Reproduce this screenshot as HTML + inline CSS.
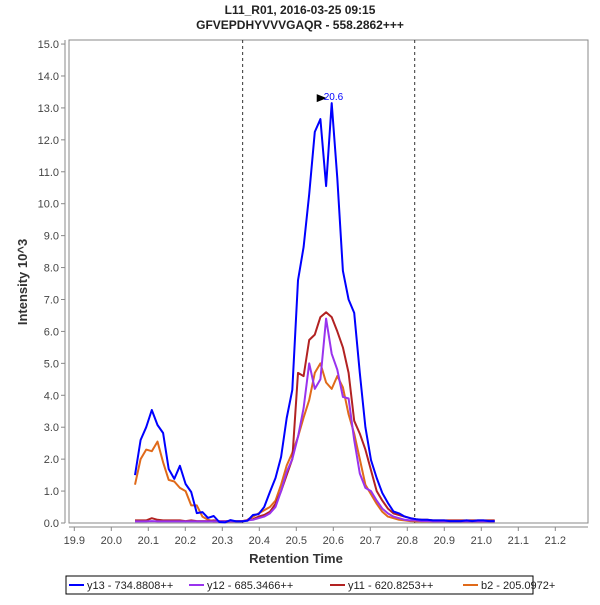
<!DOCTYPE html>
<html><head><meta charset="utf-8"><style>
body{margin:0;background:#fff}
svg{font-family:"Liberation Sans",sans-serif}
</style></head><body>
<svg id="c" width="600" height="600" viewBox="0 0 600 600">
<rect width="600" height="600" fill="#fff"/>
<text x="300" y="14" text-anchor="middle" font-size="12" font-weight="bold" fill="#222">L11_R01, 2016-03-25 09:15</text>
<text x="300" y="29" text-anchor="middle" font-size="12" font-weight="bold" fill="#222">GFVEPDHYVVVGAQR - 558.2862+++</text>
<rect x="69" y="40" width="519" height="483" fill="#fff" stroke="#888" stroke-width="1"/>
<g id="axes"></g>
<g id="series"></g>
<text x="296" y="563" text-anchor="middle" font-size="13" font-weight="bold" fill="#333">Retention Time</text>
<text transform="translate(27,282) rotate(-90)" text-anchor="middle" font-size="13" font-weight="bold" fill="#333">Intensity 10^3</text>
<g>
<rect x="66" y="576" width="467" height="18" fill="#fff" stroke="#000" stroke-width="1"/>
<g id="legend"></g>
</g>
</svg>
<script>
const times0 = 20.064, dt = 0.01519;
const y13 = [1.5,2.6,3.0,3.54,3.07,2.82,1.69,1.38,1.79,1.22,0.97,0.31,0.34,0.16,0.22,0.03,0.02,0.09,0.05,0.05,0.07,0.25,0.28,0.5,0.97,1.41,2.07,3.29,4.17,7.6,8.64,10.3,12.25,12.65,10.55,13.15,10.8,7.9,7.0,6.58,4.7,3.0,1.97,1.41,0.94,0.63,0.36,0.3,0.2,0.15,0.12,0.1,0.1,0.08,0.08,0.08,0.06,0.06,0.06,0.08,0.06,0.08,0.08,0.06,0.06];
const y12 = [0.05,0.05,0.05,0.06,0.05,0.05,0.05,0.05,0.05,0.05,0.05,0.05,0.05,0.05,0.05,0.05,0.05,0.05,0.05,0.05,0.08,0.1,0.15,0.2,0.3,0.5,1.0,1.6,2.0,2.7,3.6,5.0,4.2,4.5,6.4,5.3,4.8,3.95,3.9,2.6,1.55,1.1,1.0,0.7,0.45,0.3,0.2,0.15,0.1,0.08,0.08,0.06,0.06,0.05,0.05,0.05,0.05,0.05,0.05,0.05,0.05,0.05,0.05,0.05,0.05];
const y11 = [0.08,0.08,0.08,0.15,0.1,0.08,0.08,0.08,0.08,0.06,0.08,0.06,0.06,0.06,0.08,0.06,0.06,0.06,0.06,0.06,0.08,0.12,0.2,0.25,0.35,0.6,1.0,1.5,2.0,4.7,4.6,5.73,5.9,6.45,6.6,6.45,6.0,5.5,4.7,3.2,2.8,2.3,1.65,1.0,0.7,0.45,0.3,0.25,0.2,0.15,0.12,0.1,0.1,0.08,0.08,0.08,0.08,0.08,0.08,0.08,0.08,0.08,0.08,0.08,0.08];
const b2 = [1.2,2.0,2.3,2.25,2.55,1.9,1.35,1.3,1.1,1.0,0.55,0.55,0.2,0.1,0.05,0.05,0.03,0.05,0.05,0.05,0.1,0.2,0.3,0.4,0.5,0.7,1.2,1.8,2.2,2.7,3.3,3.85,4.7,5.0,4.4,4.2,4.6,4.25,3.4,2.8,2.0,1.2,0.9,0.6,0.35,0.2,0.15,0.1,0.08,0.06,0.05,0.05,0.05,0.05,0.05,0.05,0.05,0.05,0.05,0.05,0.05,0.05,0.05,0.05,0.05];
const seriesNames = ["y13 - 734.8808++","y12 - 685.3466++","y11 - 620.8253++","b2 - 205.0972+"];
const xTicks = [19.9,20.0,20.1,20.2,20.3,20.4,20.5,20.6,20.7,20.8,20.9,21.0,21.1,21.2];
const yTicks = [0,1,2,3,4,5,6,7,8,9,10,11,12,13,14,15];
const boundaries = [20.355,20.82];
const peakTime = 20.5957, peakValue = 13.15, peakLabel = "20.6";

const NS="http://www.w3.org/2000/svg";
const X = t => 74.3 + (t-19.9)*370;
const Y = v => 523 - v*31.93;
function mk(tag, attrs, parent){const e=document.createElementNS(NS,tag);for(const k in attrs)e.setAttribute(k,attrs[k]);parent.appendChild(e);return e;}
const axes=document.getElementById('axes'), sg=document.getElementById('series'), lg=document.getElementById('legend');
let a=mk('line',{x1:65,y1:40,x2:65,y2:523,stroke:'#888'},axes);


a=mk('line',{x1:69,y1:527,x2:588,y2:527,stroke:'#888'},axes);


yTicks.forEach(v=>{
  mk('line',{x1:61,y1:Y(v),x2:65,y2:Y(v),stroke:'#888'},axes);
  const t=mk('text',{x:59,y:Y(v)+4,'text-anchor':'end','font-size':11,fill:'#444'},axes);
  t.textContent=v.toFixed(1);
  
  
});
xTicks.forEach(v=>{
  mk('line',{x1:X(v),y1:527,x2:X(v),y2:531,stroke:'#888'},axes);
  const t=mk('text',{x:X(v),y:544,'text-anchor':'middle','font-size':11,fill:'#444'},axes);
  t.textContent=v.toFixed(1);
  
  
});
boundaries.forEach(b=>{
  const l=mk('line',{x1:X(b),y1:40,x2:X(b),y2:523,stroke:'#333','stroke-dasharray':'3,3'},axes);
  
  
});
const colors=['#0000ff','#9933ee','#b22222','#e06a1a'];
const data=[y13,y12,y11,b2];
const order=[3,2,1,0];
order.forEach(si=>{
  const pts=data[si].map((v,i)=>X(times0+i*dt).toFixed(1)+','+Y(v).toFixed(1)).join(' ');
  const p=mk('polyline',{points:pts,fill:'none',stroke:colors[si],'stroke-width':2,'stroke-linejoin':'round'},sg);
  
  
});
const px=X(peakTime), py=Y(peakValue);
let m=mk('polygon',{points:`${px-15},${py-9} ${px-15},${py-1} ${px-5},${py-5}`,fill:'#000'},sg);


m=mk('text',{x:px-8,y:py-3,'font-size':10,fill:'#0000ff'},sg);
m.textContent=peakLabel;


const lx=[69,189,330,463];
seriesNames.forEach((n,i)=>{
  const g=mk('g',{},lg);
  
  
  mk('line',{x1:lx[i],y1:585,x2:lx[i]+15,y2:585,stroke:colors[i],'stroke-width':2},g);
  const t=mk('text',{x:lx[i]+18,y:589,'font-size':11,fill:'#222'},g);
  t.textContent=n;
});
</script>
</body></html>
